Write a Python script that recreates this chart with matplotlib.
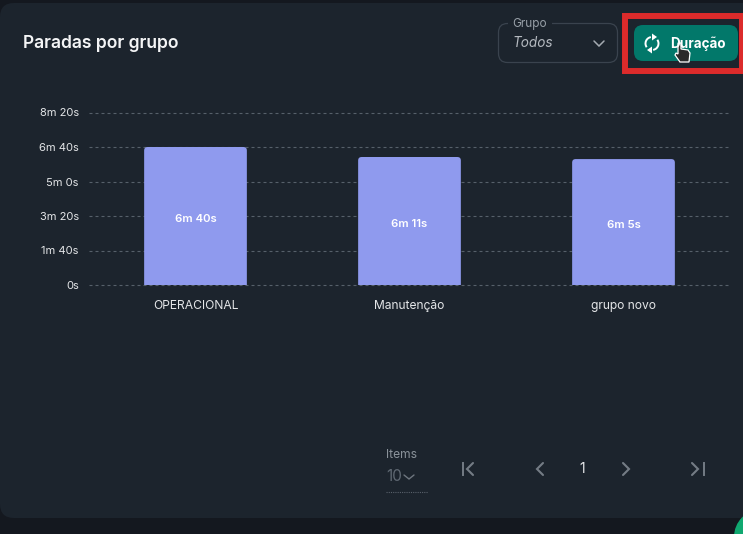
import matplotlib
matplotlib.use("Agg")
import matplotlib.pyplot as plt
from matplotlib.patches import FancyBboxPatch, Rectangle, Circle, Arc, Polygon
from matplotlib.transforms import IdentityTransform

plt.rcParams["font.family"] = ["Inter", "DejaVu Sans"]

groups = ["OPERACIONAL", "Manutenção", "grupo novo"]
seconds = [400, 371, 365]
bar_labels = ["6m 40s", "6m 11s", "6m 5s"]
tick_values = [0, 100, 200, 300, 400, 500]
tick_labels = ["0s", "1m 40s", "3m 20s", "5m 0s", "6m 40s", "8m 20s"]

W, H = 743, 534
BG = "#14181f"
CARD = "#1c242d"
BAR = "#8f9aee"
TEAL = "#02786a"

fig = plt.figure(figsize=(W / 100, H / 100), dpi=100, facecolor=BG)

# overlay in pixel coords, y going down like the screenshot
ui = fig.add_axes([0, 0, 1, 1], zorder=0)
ui.set_xlim(0, W)
ui.set_ylim(H, 0)
ui.axis("off")


def chevron(pts, color, lw=1.5):
    ui.plot([p[0] for p in pts], [p[1] for p in pts], color=color, lw=lw,
            solid_capstyle="round", solid_joinstyle="miter")


# card
ui.add_patch(FancyBboxPatch((0, 3), W + 30, 515, boxstyle="round,pad=0,rounding_size=14",
                            fc=CARD, ec="none"))
ui.text(23, 44, "Paradas por grupo", color="#f4f5f6", fontsize=12.55, fontweight="semibold", va="center")

# Grupo select
ui.add_patch(FancyBboxPatch((498.5, 23.5), 119, 39, boxstyle="round,pad=0,rounding_size=9",
                            fc="none", ec="#3a434e", lw=0.9))
ui.add_patch(Rectangle((508, 18), 44, 10, fc=CARD, ec="none"))
ui.text(512, 23.5, "Grupo", color="#98a0a8", fontsize=8.5, va="center")
ui.text(513, 43, "Todos", color="#b4b9bf", fontsize=9.8, style="italic", va="center")
chevron([(594, 41), (599, 46), (604, 41)], "#a4aab1", 1.1)

# red highlight and button
ui.add_patch(Rectangle((625, 16), 116.5, 55, fc="none", ec="#dc2b2b", lw=4.3))
ui.add_patch(FancyBboxPatch((634, 25), 104, 36, boxstyle="round,pad=0,rounding_size=9",
                            fc=TEAL, ec="none"))
ui.text(670, 44, "Duração", color="white", fontsize=9.7, fontweight="bold", va="center")

# refresh icon, angles are mirrored because the y axis is flipped
ui.add_patch(Arc((652, 43.5), 13, 13, theta1=145, theta2=260, color="white", lw=1.4))
ui.add_patch(Arc((652, 43.5), 13, 13, theta1=-35, theta2=80, color="white", lw=1.4))
ui.add_patch(Polygon([(652, 33.5), (657, 37), (652, 40.5)], fc="white", ec="none"))
ui.add_patch(Polygon([(652, 46.5), (647, 50), (652, 53.5)], fc="white", ec="none"))

# hand cursor
hand = [(678, 43), (681, 43), (681, 49), (688, 50), (690, 53), (689, 62),
        (680, 62), (675, 55), (676, 53), (678, 54)]
ui.add_patch(Polygon(hand, fc="#2a2a2a", ec="white", lw=0.9))

# pagination
ui.text(386, 454.5, "Items", color="#8a929a", fontsize=8.7, va="center")
ui.text(386, 476.5, "10", color="#5f6872", fontsize=11, va="center")
chevron([(404, 475), (409, 479), (414, 475)], "#6e767f", 1.0)
ui.plot([386, 428], [491.5, 491.5], color="#59616b", lw=0.8, ls=(0, (1, 1)))

ICON = "#747c85"
ui.plot([462.5, 462.5], [463, 475], color=ICON, lw=1.4)
chevron([(473, 463), (467, 469), (473, 475)], ICON, 1.5)
chevron([(543, 463), (537, 469), (543, 475)], ICON, 1.5)
ui.text(582.5, 469, "1", color="#e6e8ea", fontsize=10, ha="center", va="center")
chevron([(623, 463), (629, 469), (623, 475)], ICON, 1.5)
chevron([(692, 463), (698, 469), (692, 475)], ICON, 1.5)
ui.plot([703.5, 703.5], [463, 475], color=ICON, lw=1.4)

# green bubble in the corner
ui.add_patch(Circle((762, 537), 28, fc="#10a870", ec="none"))

# chart
left, right, bottom, top = 88.5, 730.5, 285.0, 112.5
ax = fig.add_axes([left / W, 1 - bottom / H, (right - left) / W, (bottom - top) / H], zorder=1)
ax.patch.set_alpha(0)
ax.set_xlim(-0.5, 2.5)
ax.set_ylim(0, 500)
for s in ax.spines.values():
    s.set_visible(False)
ax.set_yticks(tick_values, tick_labels)
ax.set_xticks(range(len(groups)), groups)
ax.tick_params(axis="both", length=0, labelcolor="#e4e6e8")
ax.tick_params(axis="y", pad=7, labelsize=8)
ax.tick_params(axis="x", pad=11, labelsize=8.7)
ax.grid(axis="y", color="#56606a", lw=0.8, ls=(0, (2.7, 2.7)), clip_on=False)
ax.grid(axis="x", visible=False)
ax.set_axisbelow(True)

bars = ax.bar(range(len(groups)), seconds, width=0.48, color=BAR)
fig.canvas.draw()
for bar, label, value in zip(bars, bar_labels, seconds):
    # round the top corners only, the bottom of the clip sits below the axis
    box = bar.get_window_extent()
    clip = FancyBboxPatch((box.x0, box.y0 - 6), box.width, box.height + 6,
                          boxstyle="round,pad=0,rounding_size=3.5", transform=IdentityTransform())
    bar.set_clip_path(clip)
    ax.text(bar.get_x() + bar.get_width() / 2, value / 2 - 10, label, color="white",
            fontsize=8.2, fontweight="semibold", ha="center", va="center")

fig.savefig("out.png", dpi=100, facecolor=BG)
